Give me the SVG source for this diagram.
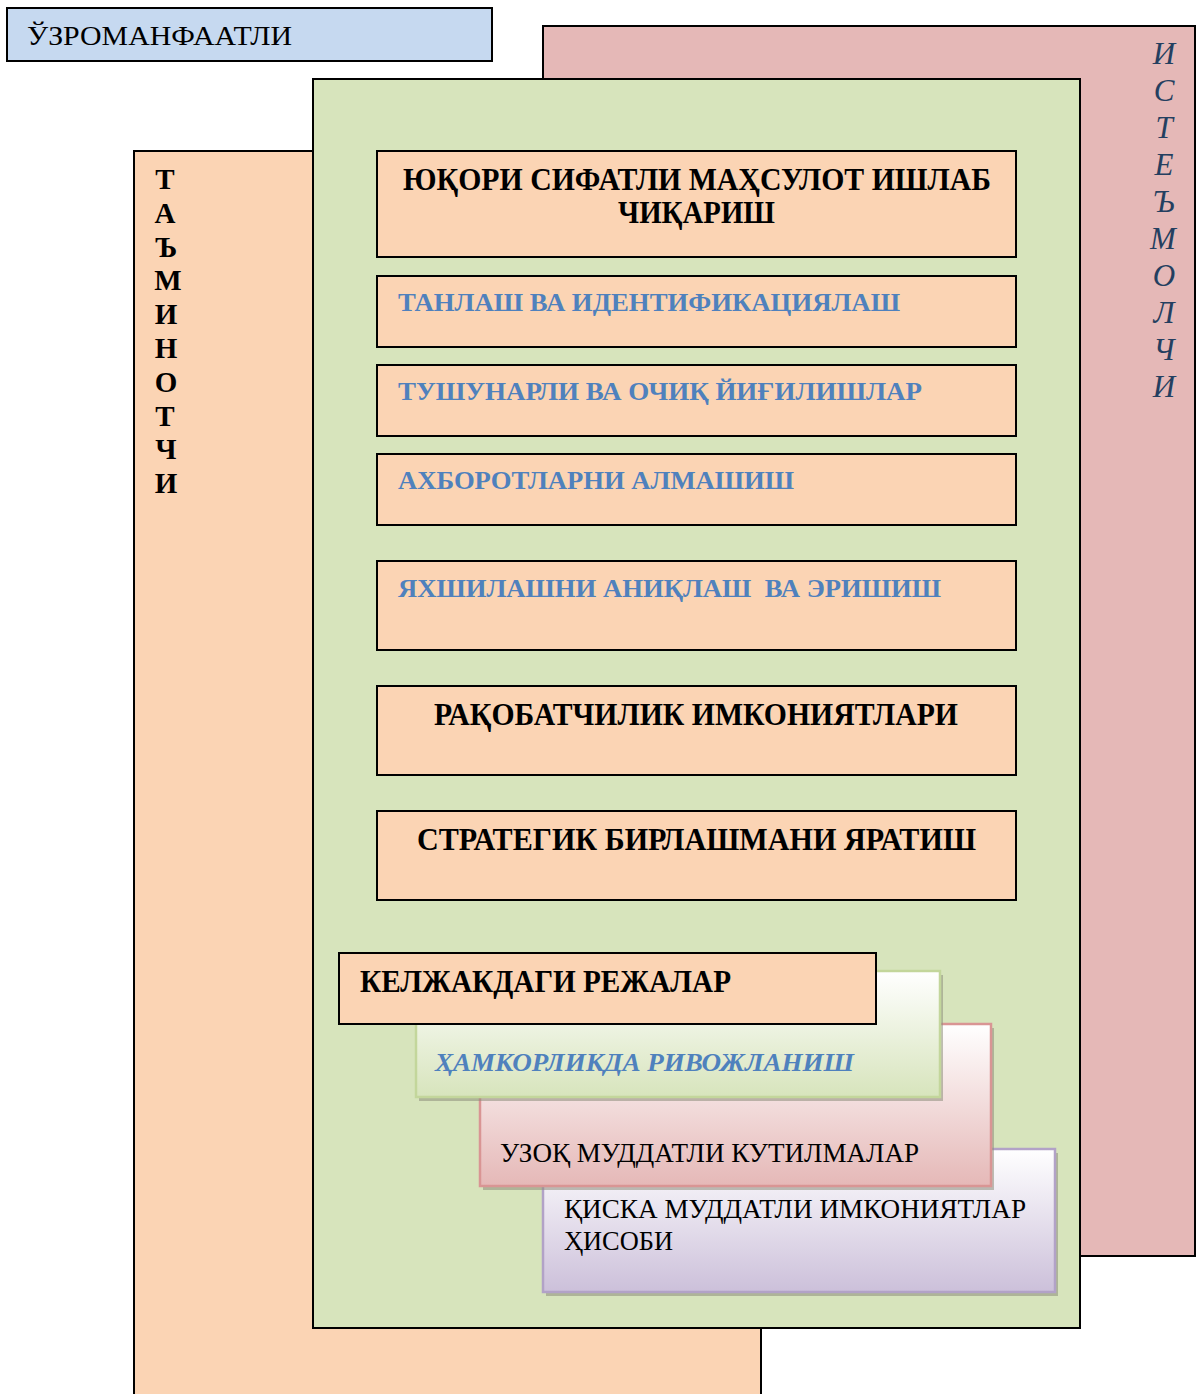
<svg xmlns="http://www.w3.org/2000/svg" width="1196" height="1394" viewBox="0 0 1196 1394">
<defs>
<linearGradient id="gGreen" x1="0" y1="0" x2="0" y2="1"><stop offset="0" stop-color="#ffffff"/><stop offset="1" stop-color="#d7e4bc"/></linearGradient>
<linearGradient id="gPink" x1="0" y1="0" x2="0" y2="1"><stop offset="0" stop-color="#ffffff"/><stop offset="1" stop-color="#e5b8b7"/></linearGradient>
<linearGradient id="gPurple" x1="0" y1="0" x2="0" y2="1"><stop offset="0" stop-color="#ffffff"/><stop offset="1" stop-color="#ccc0da"/></linearGradient>
<style>
.box{stroke:#000;stroke-width:2}
.peach{fill:#fbd4b4}
.bk{font-family:"Liberation Serif","Times New Roman",serif;font-weight:bold;font-size:31px;fill:#000}
.bl{font-family:"Liberation Serif","Times New Roman",serif;font-weight:bold;font-size:26px;fill:#4f81bd}
.rg{font-family:"Liberation Serif","Times New Roman",serif;font-size:27px;fill:#000}
.vt{font-family:"Liberation Serif","Times New Roman",serif;font-weight:bold;font-size:29px;fill:#000;text-anchor:middle}
.vi{font-family:"Liberation Serif","Times New Roman",serif;font-style:italic;font-size:31px;fill:#243f60;text-anchor:middle}
.shadow{fill:#8c8c7a;opacity:0.55}
</style>
</defs>
<rect width="1196" height="1394" fill="#fff"/>

<g id="istemolchi">
<rect x="543" y="26" width="652" height="1230" fill="#e5b8b7" class="box"/>
<text class="vi" x="1164" y="64">И</text>
<text class="vi" x="1164" y="101">С</text>
<text class="vi" x="1164" y="138">Т</text>
<text class="vi" x="1164" y="175">Е</text>
<text class="vi" x="1164" y="212">Ъ</text>
<text class="vi" x="1163" y="249">М</text>
<text class="vi" x="1164" y="286">О</text>
<text class="vi" x="1164" y="323">Л</text>
<text class="vi" x="1164" y="360">Ч</text>
<text class="vi" x="1164" y="397">И</text>
</g>

<g id="taminotchi">
<rect x="134" y="151" width="627" height="1260" class="box peach"/>
<text class="vt" x="165" y="189">Т</text>
<text class="vt" x="165" y="223">А</text>
<text class="vt" x="166" y="257">Ъ</text>
<text class="vt" x="168" y="290">М</text>
<text class="vt" x="166" y="324">И</text>
<text class="vt" x="166" y="358">Н</text>
<text class="vt" x="166" y="392">О</text>
<text class="vt" x="165" y="426">Т</text>
<text class="vt" x="166" y="459">Ч</text>
<text class="vt" x="166" y="493">И</text>
</g>

<g id="uzromanfaatli">
<rect x="7" y="8" width="485" height="53" fill="#c6d9f0" class="box"/>
<text class="rg" x="27" y="45" font-size="28" textLength="265" lengthAdjust="spacingAndGlyphs">ЎЗРОМАНФААТЛИ</text>
</g>

<g id="green-panel">
<rect x="313" y="79" width="767" height="1249" fill="#d7e4bc" class="box"/>
</g>

<g id="b1">
<rect x="377" y="151" width="639" height="106" class="box peach"/>
<text class="bk" x="403" y="190" textLength="588" lengthAdjust="spacingAndGlyphs">ЮҚОРИ СИФАТЛИ МАҲСУЛОТ ИШЛАБ</text>
<text class="bk" x="618" y="223" textLength="157" lengthAdjust="spacingAndGlyphs">ЧИҚАРИШ</text>
</g>
<g id="b2">
<rect x="377" y="276" width="639" height="71" class="box peach"/>
<text class="bl" x="398" y="311" textLength="502" lengthAdjust="spacingAndGlyphs">ТАНЛАШ ВА ИДЕНТИФИКАЦИЯЛАШ</text>
</g>
<g id="b3">
<rect x="377" y="365" width="639" height="71" class="box peach"/>
<text class="bl" x="398" y="400" textLength="524" lengthAdjust="spacingAndGlyphs">ТУШУНАРЛИ ВА ОЧИҚ ЙИҒИЛИШЛАР</text>
</g>
<g id="b4">
<rect x="377" y="454" width="639" height="71" class="box peach"/>
<text class="bl" x="398" y="489" textLength="396" lengthAdjust="spacingAndGlyphs">АХБОРОТЛАРНИ АЛМАШИШ</text>
</g>
<g id="b5">
<rect x="377" y="561" width="639" height="89" class="box peach"/>
<text class="bl" x="398" y="597" textLength="543" lengthAdjust="spacingAndGlyphs" xml:space="preserve">ЯХШИЛАШНИ АНИҚЛАШ  ВА ЭРИШИШ</text>
</g>
<g id="b6">
<rect x="377" y="686" width="639" height="89" class="box peach"/>
<text class="bk" x="434" y="725" textLength="524" lengthAdjust="spacingAndGlyphs">РАҚОБАТЧИЛИК ИМКОНИЯТЛАРИ</text>
</g>
<g id="b7">
<rect x="377" y="811" width="639" height="89" class="box peach"/>
<text class="bk" x="417" y="850" textLength="559" lengthAdjust="spacingAndGlyphs">СТРАТЕГИК БИРЛАШМАНИ ЯРАТИШ</text>
</g>

<g id="qisqa">
<rect x="546" y="1153" width="512" height="143" class="shadow"/>
<rect x="543" y="1149" width="512" height="143" fill="url(#gPurple)" stroke="#b2a2c7" stroke-width="2.5"/>
<text class="rg" x="564" y="1218" textLength="462" lengthAdjust="spacingAndGlyphs">ҚИСКА МУДДАТЛИ ИМКОНИЯТЛАР</text>
<text class="rg" x="564" y="1250" textLength="109" lengthAdjust="spacingAndGlyphs">ҲИСОБИ</text>
</g>
<g id="uzoq">
<rect x="483" y="1028" width="511" height="162" class="shadow"/>
<rect x="480" y="1024" width="511" height="162" fill="url(#gPink)" stroke="#d99594" stroke-width="2.5"/>
<text class="rg" x="500" y="1162" textLength="419" lengthAdjust="spacingAndGlyphs">УЗОҚ МУДДАТЛИ КУТИЛМАЛАР</text>
</g>
<g id="hamkorlik">
<rect x="419" y="975" width="524" height="126" class="shadow"/>
<rect x="416" y="971" width="524" height="126" fill="url(#gGreen)" stroke="#c3d69b" stroke-width="2.5"/>
<text class="bl" x="435" y="1071" font-style="italic" font-size="27" textLength="419" lengthAdjust="spacingAndGlyphs">ҲАМКОРЛИКДА РИВОЖЛАНИШ</text>
</g>
<g id="keljak">
<rect x="339" y="953" width="537" height="71" class="box peach"/>
<text class="bk" x="360" y="992" font-size="29" textLength="371" lengthAdjust="spacingAndGlyphs">КЕЛЖАКДАГИ РЕЖАЛАР</text>
</g>

<g id="connectors"/>
</svg>
